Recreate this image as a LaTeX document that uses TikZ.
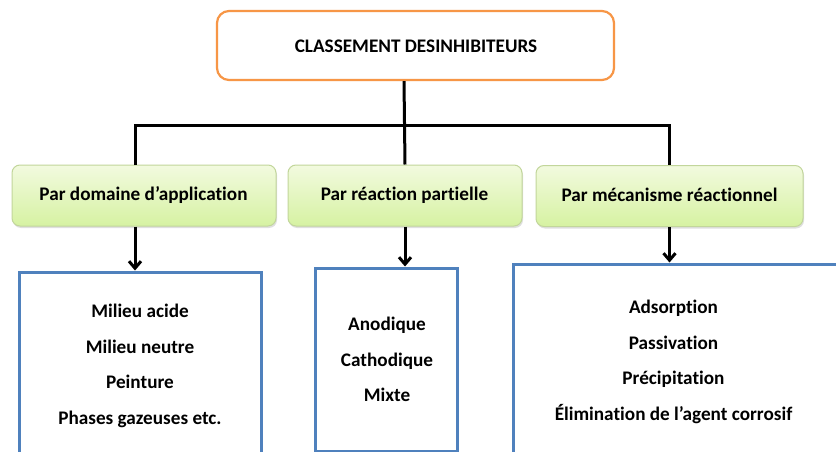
\documentclass[tikz,border=0pt]{standalone}
\usepackage{fontspec}
\setmainfont{Carlito}[Ligatures={NoCommon}]
\usetikzlibrary{arrows.meta,shadows}
\definecolor{orangeb}{HTML}{F79646}
\definecolor{blueb}{HTML}{4F81BD}
\definecolor{greentop}{HTML}{F2FADF}
\definecolor{greenbot}{HTML}{D6F2A2}
\definecolor{greenline}{HTML}{C2D69B}
\tikzset{
  txt/.style={font=\bfseries\fontsize{19.2}{35.5}\selectfont, align=center, inner sep=0pt},
  topbox/.style={draw=orangeb, line width=2.2pt, rounded corners=12pt, fill=white, inner sep=0pt},
  catbox/.style={draw=greenline, line width=1pt, rounded corners=8pt, top color=greentop, bottom color=greenbot,
    drop shadow={opacity=0.25, shadow xshift=1pt, shadow yshift=-2pt}, inner sep=0pt},
  listbox/.style={draw=blueb, line width=3pt, fill=white, inner sep=0pt},
  conn/.style={line width=3pt, black},
  arr/.style={conn, -{Straight Barb[length=7pt, width=12pt, line width=3pt]}}
}
\begin{document}
\begin{tikzpicture}[x=1pt, y=-1pt]
\clip (0,0) rectangle (836,452);
\fill[white] (0,0) rectangle (836,452);
% top
\node[topbox, minimum width=397pt, minimum height=69pt] (top) at (415.5,45.5) {};
\node[txt] (toptxt) at (416,46) {CLASSEMENT DESINHIBITEURS};
% categories
\node[catbox, minimum width=264pt, minimum height=61pt] (g1) at (144,195.5) {};
\node[catbox, minimum width=234pt, minimum height=61pt] (g2) at (405,195.5) {};
\node[catbox, minimum width=267pt, minimum height=61pt] (g3) at (669.5,196) {};
\node[txt] (g1t) at (143.5,195) {Par domaine d’application};
\node[txt] (g2t) at (404.5,195) {Par réaction partielle};
\node[txt] (g3t) at (669.5,195) {Par mécanisme réactionnel};
% lists
\node[listbox, minimum width=242pt, minimum height=198pt] (b1) at (140,371) {};
\node[listbox, minimum width=142pt, minimum height=183pt] (b2) at (386,359.5) {};
\node[listbox, minimum width=337pt, minimum height=206pt] (b3) at (681.5,367) {};
\node[txt] (b1t) at (140,366) {Milieu acide\\Milieu neutre\\Peinture\\Phases gazeuses etc.};
\node[txt] (b2t) at (387,359.5) {Anodique\\Cathodique\\Mixte};
\node[txt] (b3t) at (673.5,362) {Adsorption\\Passivation\\Précipitation\\Élimination de l’agent corrosif};
% connectors
\coordinate (j) at (404,125);
\coordinate (g1in) at (135,165);
\draw[conn] (j |- top.south) -- (g2.north);
\draw[conn] (g1in) |- (j) -| (g3.north);
\draw[arr] (g1.south -| g1in) -- (g1in |- b1.north);
\draw[arr] (g2.south) -- (g2.south |- b2.north);
\draw[arr] (g3.south) -- (g3.south |- b3.north);
\end{tikzpicture}
\end{document}
